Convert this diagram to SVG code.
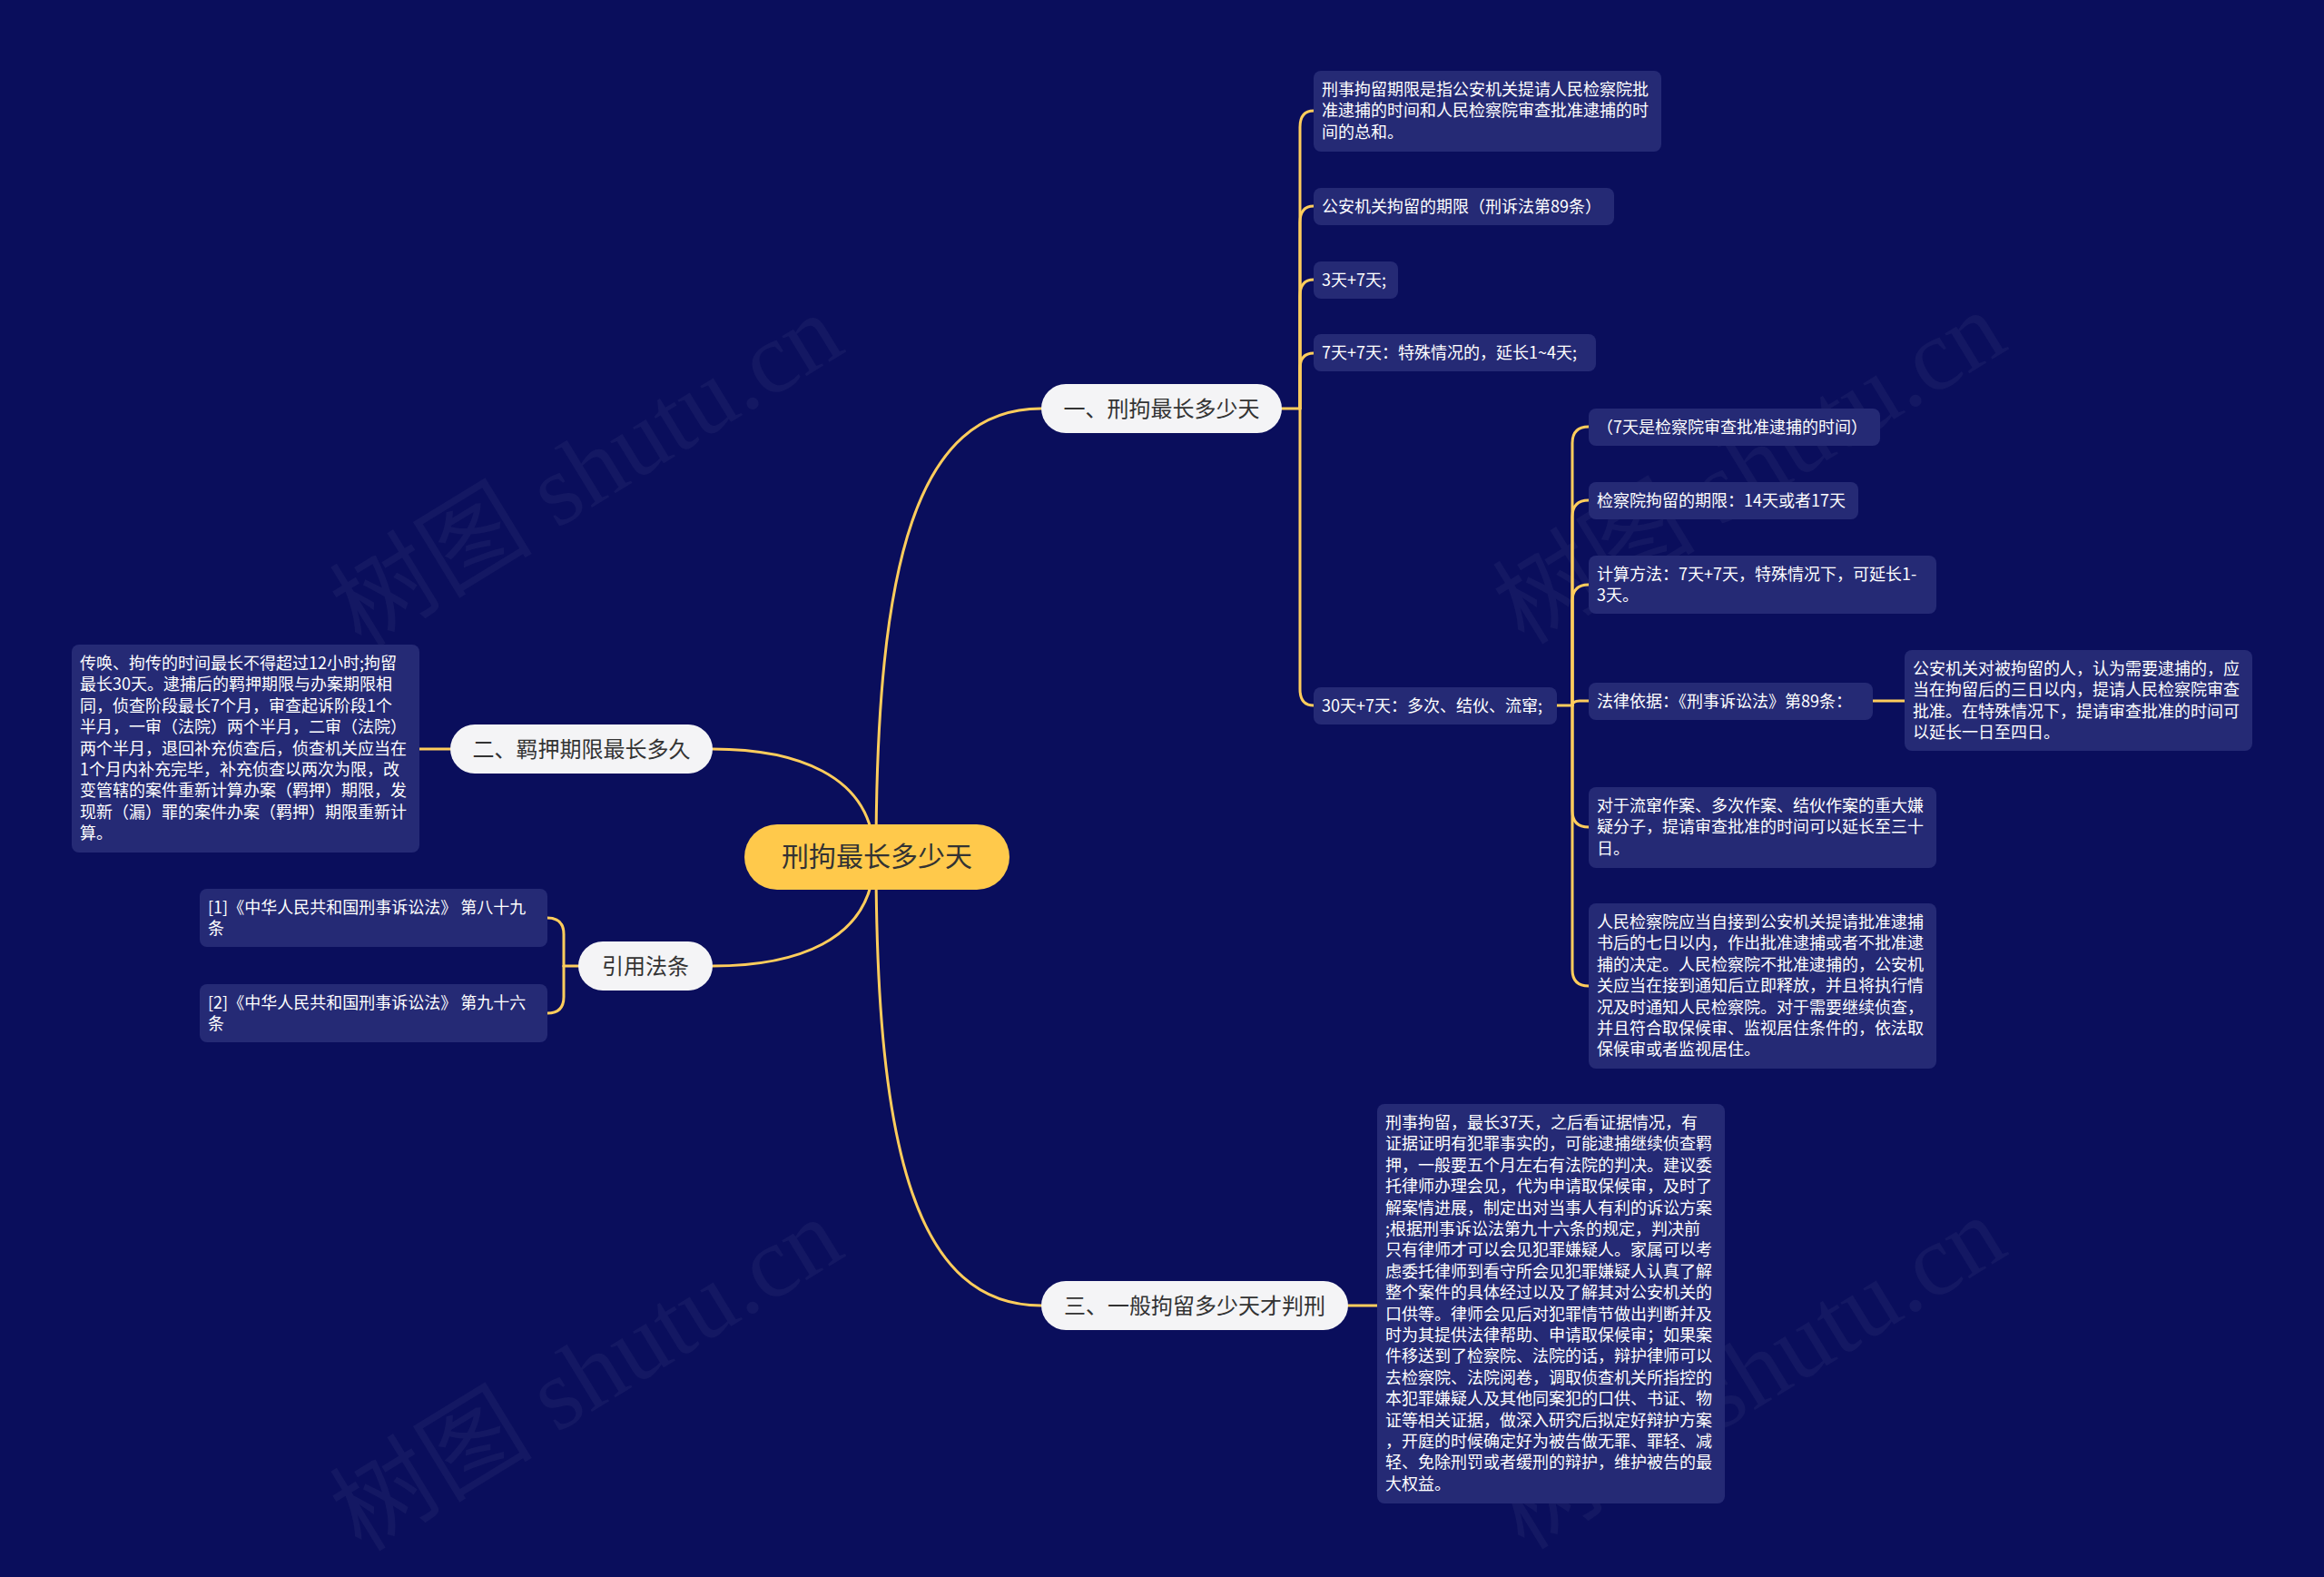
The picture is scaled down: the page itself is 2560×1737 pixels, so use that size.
<svg xmlns="http://www.w3.org/2000/svg" width="2560" height="1737" viewBox="0 0 2560 1737">
<style>
.bg{fill:#0A0E5C}
.wm{font-family:"Liberation Serif","Noto Sans CJK SC",serif;font-size:112px;fill:#FFFFFF;fill-opacity:0.045;text-anchor:middle}
.ln{fill:none;stroke:#FFCD5C;stroke-width:3;stroke-linecap:round}
.box{fill:#252A75}
.t{font-family:"Noto Sans CJK SC","Noto Sans CJK TC",sans-serif;font-size:18px;fill:#FFFFFF}
.br{fill:#F4F4F6}
.bt{font-family:"Noto Sans CJK SC","Noto Sans CJK TC",sans-serif;font-size:24px;fill:#333333;text-anchor:middle}
.root{fill:#FFC94B}
.rt{font-family:"Noto Sans CJK SC","Noto Sans CJK TC",sans-serif;font-size:30px;fill:#333333;text-anchor:middle}
</style>
<rect class="bg" x="0" y="0" width="2560" height="1737"/>
<g id="watermarks">
<text class="wm" transform="translate(646,518) rotate(-31.5)" y="38">树图 shutu.cn</text>
<text class="wm" transform="translate(1927,515) rotate(-31.5)" y="38">树图 shutu.cn</text>
<text class="wm" transform="translate(646,1514) rotate(-31.5)" y="38">树图 shutu.cn</text>
<text class="wm" transform="translate(1927,1512) rotate(-31.5)" y="38">树图 shutu.cn</text>
</g>
<g id="connectors">
<path class="ln" d="M965,944 C965,618 1010,450 1147,450"/>
<path class="ln" d="M963,944 C963,850 870,825 785,825"/>
<path class="ln" d="M963,944 C963,1040 870,1064 785,1064"/>
<path class="ln" d="M965,944 C965,1270 1010,1438 1147,1438"/>
<path class="ln" d="M1412,450 H1432"/>
<path class="ln" d="M1432,450 V140 Q1432,122 1447,122"/>
<path class="ln" d="M1432,450 V245 Q1432,227 1447,227"/>
<path class="ln" d="M1432,450 V326 Q1432,308 1447,308"/>
<path class="ln" d="M1432,450 V406 Q1432,389 1447,389"/>
<path class="ln" d="M1432,450 V759 Q1432,777 1447,777"/>
<path class="ln" d="M1715,777 H1732"/>
<path class="ln" d="M1732,777 V488 Q1732,470 1750,470"/>
<path class="ln" d="M1732,777 V569 Q1732,551 1750,551"/>
<path class="ln" d="M1732,777 V662 Q1732,644 1750,644"/>
<path class="ln" d="M1732,777 Q1732,772 1740,772 H1750"/>
<path class="ln" d="M1732,777 V893 Q1732,911 1750,911"/>
<path class="ln" d="M1732,777 V1068 Q1732,1086 1750,1086"/>
<path class="ln" d="M2063,772 H2098"/>
<path class="ln" d="M462,825 H496"/>
<path class="ln" d="M637,1064 H621"/>
<path class="ln" d="M621,1064 V1029 Q621,1011 603,1011"/>
<path class="ln" d="M621,1064 V1098 Q621,1116 603,1116"/>
<path class="ln" d="M1485,1438 H1517"/>
</g>
<g id="root">
<rect class="root" x="820" y="908" width="292" height="72" rx="36"/>
<text class="rt" x="966" y="954">刑拘最长多少天</text>
</g>
<g id="b1">
<rect class="br" x="1147" y="423" width="265" height="54" rx="27"/>
<text class="bt" x="1279.5" y="458.5">一、刑拘最长多少天</text>
</g>
<g id="b2">
<rect class="br" x="496" y="798" width="289" height="54" rx="27"/>
<text class="bt" x="640.5" y="833.5">二、羁押期限最长多久</text>
</g>
<g id="b3">
<rect class="br" x="637" y="1037" width="148" height="54" rx="27"/>
<text class="bt" x="711" y="1072.5">引用法条</text>
</g>
<g id="b4">
<rect class="br" x="1147" y="1411" width="338" height="54" rx="27"/>
<text class="bt" x="1316" y="1446.5">三、一般拘留多少天才判刑</text>
</g>
<g id="a1">
<rect class="box" x="1447" y="78" width="383" height="89" rx="8"/>
<text class="t" x="1456" y="105"><tspan x="1456">刑事拘留期限是指公安机关提请人民检察院批</tspan><tspan x="1456" dy="23.4">准逮捕的时间和人民检察院审查批准逮捕的时</tspan><tspan x="1456" dy="23.4">间的总和。</tspan></text>
</g>
<g id="a2">
<rect class="box" x="1447" y="207" width="331" height="41" rx="8"/>
<text class="t" x="1456" y="234">公安机关拘留的期限（刑诉法第89条）</text>
</g>
<g id="a3">
<rect class="box" x="1447" y="288" width="93" height="41" rx="8"/>
<text class="t" x="1456" y="315">3天+7天;</text>
</g>
<g id="a4">
<rect class="box" x="1447" y="368" width="311" height="41" rx="8"/>
<text class="t" x="1456" y="395">7天+7天：特殊情况的，延长1~4天;</text>
</g>
<g id="a5">
<rect class="box" x="1447" y="757" width="268" height="41" rx="8"/>
<text class="t" x="1456" y="784">30天+7天：多次、结伙、流窜;</text>
</g>
<g id="c1">
<rect class="box" x="1750" y="450" width="321" height="41" rx="8"/>
<text class="t" x="1759" y="477">（7天是检察院审查批准逮捕的时间）</text>
</g>
<g id="c2">
<rect class="box" x="1750" y="531" width="297" height="41" rx="8"/>
<text class="t" x="1759" y="558">检察院拘留的期限：14天或者17天</text>
</g>
<g id="c3">
<rect class="box" x="1750" y="612" width="383" height="64" rx="8"/>
<text class="t" x="1759" y="639"><tspan x="1759">计算方法：7天+7天，特殊情况下，可延长1-</tspan><tspan x="1759" dy="23.4">3天。</tspan></text>
</g>
<g id="c4">
<rect class="box" x="1750" y="752" width="313" height="41" rx="8"/>
<text class="t" x="1759" y="779">法律依据：《刑事诉讼法》第89条：</text>
</g>
<g id="c4a">
<rect class="box" x="2098" y="716" width="383" height="111" rx="8"/>
<text class="t" x="2107" y="743"><tspan x="2107">公安机关对被拘留的人，认为需要逮捕的，应</tspan><tspan x="2107" dy="23.4">当在拘留后的三日以内，提请人民检察院审查</tspan><tspan x="2107" dy="23.4">批准。在特殊情况下，提请审查批准的时间可</tspan><tspan x="2107" dy="23.4">以延长一日至四日。</tspan></text>
</g>
<g id="c5">
<rect class="box" x="1750" y="867" width="383" height="89" rx="8"/>
<text class="t" x="1759" y="894"><tspan x="1759">对于流窜作案、多次作案、结伙作案的重大嫌</tspan><tspan x="1759" dy="23.4">疑分子，提请审查批准的时间可以延长至三十</tspan><tspan x="1759" dy="23.4">日。</tspan></text>
</g>
<g id="c6">
<rect class="box" x="1750" y="995" width="383" height="182" rx="8"/>
<text class="t" x="1759" y="1022"><tspan x="1759">人民检察院应当自接到公安机关提请批准逮捕</tspan><tspan x="1759" dy="23.4">书后的七日以内，作出批准逮捕或者不批准逮</tspan><tspan x="1759" dy="23.4">捕的决定。人民检察院不批准逮捕的，公安机</tspan><tspan x="1759" dy="23.4">关应当在接到通知后立即释放，并且将执行情</tspan><tspan x="1759" dy="23.4">况及时通知人民检察院。对于需要继续侦查，</tspan><tspan x="1759" dy="23.4">并且符合取保候审、监视居住条件的，依法取</tspan><tspan x="1759" dy="23.4">保候审或者监视居住。</tspan></text>
</g>
<g id="d1">
<rect class="box" x="79" y="710" width="383" height="229" rx="8"/>
<text class="t" x="88" y="737"><tspan x="88">传唤、拘传的时间最长不得超过12小时;拘留</tspan><tspan x="88" dy="23.4">最长30天。逮捕后的羁押期限与办案期限相</tspan><tspan x="88" dy="23.4">同，侦查阶段最长7个月，审查起诉阶段1个</tspan><tspan x="88" dy="23.4">半月，一审（法院）两个半月，二审（法院）</tspan><tspan x="88" dy="23.4">两个半月，退回补充侦查后，侦查机关应当在</tspan><tspan x="88" dy="23.4">1个月内补充完毕，补充侦查以两次为限，改</tspan><tspan x="88" dy="23.4">变管辖的案件重新计算办案（羁押）期限，发</tspan><tspan x="88" dy="23.4">现新（漏）罪的案件办案（羁押）期限重新计</tspan><tspan x="88" dy="23.4">算。</tspan></text>
</g>
<g id="e1">
<rect class="box" x="220" y="979" width="383" height="64" rx="8"/>
<text class="t" x="229" y="1006"><tspan x="229">[1]《中华人民共和国刑事诉讼法》 第八十九</tspan><tspan x="229" dy="23.4">条</tspan></text>
</g>
<g id="e2">
<rect class="box" x="220" y="1084" width="383" height="64" rx="8"/>
<text class="t" x="229" y="1111"><tspan x="229">[2]《中华人民共和国刑事诉讼法》 第九十六</tspan><tspan x="229" dy="23.4">条</tspan></text>
</g>
<g id="f1">
<rect class="box" x="1517" y="1216" width="383" height="440" rx="8"/>
<text class="t" x="1526" y="1243"><tspan x="1526">刑事拘留，最长37天，之后看证据情况，有</tspan><tspan x="1526" dy="23.4">证据证明有犯罪事实的，可能逮捕继续侦查羁</tspan><tspan x="1526" dy="23.4">押，一般要五个月左右有法院的判决。建议委</tspan><tspan x="1526" dy="23.4">托律师办理会见，代为申请取保候审，及时了</tspan><tspan x="1526" dy="23.4">解案情进展，制定出对当事人有利的诉讼方案</tspan><tspan x="1526" dy="23.4">;根据刑事诉讼法第九十六条的规定，判决前</tspan><tspan x="1526" dy="23.4">只有律师才可以会见犯罪嫌疑人。家属可以考</tspan><tspan x="1526" dy="23.4">虑委托律师到看守所会见犯罪嫌疑人认真了解</tspan><tspan x="1526" dy="23.4">整个案件的具体经过以及了解其对公安机关的</tspan><tspan x="1526" dy="23.4">口供等。律师会见后对犯罪情节做出判断并及</tspan><tspan x="1526" dy="23.4">时为其提供法律帮助、申请取保候审；如果案</tspan><tspan x="1526" dy="23.4">件移送到了检察院、法院的话，辩护律师可以</tspan><tspan x="1526" dy="23.4">去检察院、法院阅卷，调取侦查机关所指控的</tspan><tspan x="1526" dy="23.4">本犯罪嫌疑人及其他同案犯的口供、书证、物</tspan><tspan x="1526" dy="23.4">证等相关证据，做深入研究后拟定好辩护方案</tspan><tspan x="1526" dy="23.4">，开庭的时候确定好为被告做无罪、罪轻、减</tspan><tspan x="1526" dy="23.4">轻、免除刑罚或者缓刑的辩护，维护被告的最</tspan><tspan x="1526" dy="23.4">大权益。</tspan></text>
</g>
</svg>
